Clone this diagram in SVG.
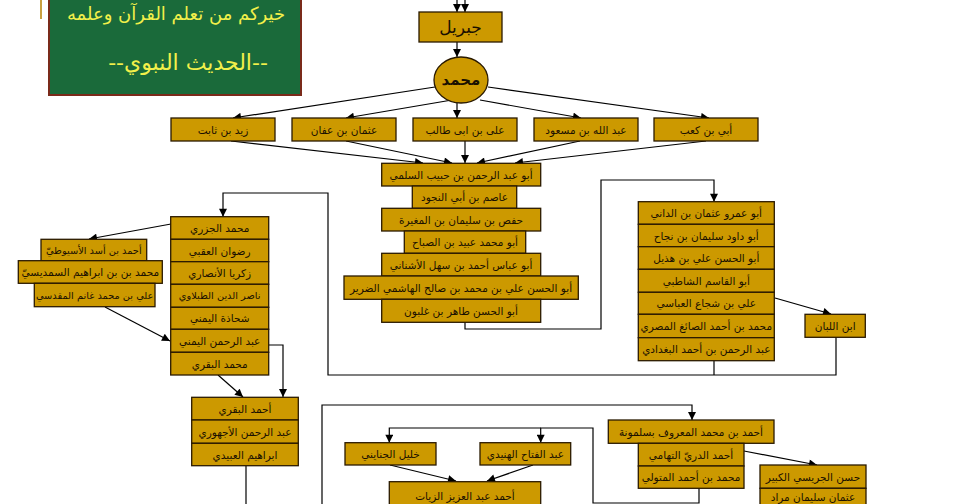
<svg xmlns="http://www.w3.org/2000/svg" width="960" height="504" viewBox="0 0 960 504">
<defs>
<marker id="ar" viewBox="0 0 10 10" refX="10" refY="5" markerWidth="9" markerHeight="8" markerUnits="userSpaceOnUse" orient="auto">
<path d="M0,0 L10,5 L0,10 z" fill="#000"/>
</marker>
<style>
.box{fill:#CC9900;stroke:#2a1a00;stroke-width:1.3}
.t{font-family:"DejaVu Sans",sans-serif;font-size:10.5px;fill:#1a1000;text-anchor:middle;dominant-baseline:central}
.s{font-size:9.8px}
.ln{fill:none;stroke:#000;stroke-width:1.2}
.ar{marker-end:url(#ar)}
.g{font-family:"DejaVu Sans",sans-serif;fill:#F2F04A;text-anchor:middle}
</style>
</defs>
<rect width="960" height="504" fill="#fff"/>
<g id="banner">
<rect x="40" y="0" width="2" height="19" fill="#C8A040"/>
<rect x="49" y="-2" width="252" height="97" fill="#1A6A3A" stroke="#7A2A1A" stroke-width="2"/>
<text class="g" x="176" y="20" style="font-size:18px">خيركم من تعلم القرآن وعلمه</text>
<text class="g" x="188" y="70" style="font-size:22px">--الحديث النبوي--</text>
</g>
<g id="connectors">
<path class="ln ar" d="M457,0 V12"/>
<path class="ln ar" d="M465,0 V12"/>
<path class="ln ar" d="M457,42 V57"/>
<path class="ln ar" d="M435,87 L233,118"/>
<path class="ln ar" d="M452,100 L346,118"/>
<path class="ln ar" d="M457,103 V118"/>
<path class="ln ar" d="M480,100 L581,118"/>
<path class="ln ar" d="M488,87 L709,118"/>
<path class="ln ar" d="M231,141 L423,163"/>
<path class="ln ar" d="M346,141 L452,163"/>
<path class="ln ar" d="M465,141 V163"/>
<path class="ln ar" d="M580,141 L477,163"/>
<path class="ln ar" d="M706,141 L515,163"/>
<path class="ln ar" d="M465,322 V329 H601 V180 H714 V201.7"/>
<path class="ln ar" d="M775,298 L831,314"/>
<path class="ln ar" d="M836,337 V375 H328 V193 H223 V216.7"/>
<path class="ln" d="M714,361 V375"/>
<path class="ln ar" d="M171,224 L89,239"/>
<path class="ln ar" d="M105,307 L170,341"/>
<path class="ln ar" d="M218,375 L243,397"/>
<path class="ln ar" d="M269,345 H283 V397"/>
<path class="ln" d="M246,466 V504"/>
<path class="ln ar" d="M322,504 V405 H692 V420"/>
<path class="ln ar" d="M699,488 V503 H593 V428 H540.7 V442.7"/>
<path class="ln ar" d="M540.7,428 H389.3 V442.7"/>
<path class="ln ar" d="M390,465 L456,481"/>
<path class="ln ar" d="M533,465 L487,481"/>
<path class="ln ar" d="M744,451 L817,465"/>
</g>
<g id="n-jibril"><rect class="box" x="419" y="12" width="83" height="30"/><text class="t" x="460.5" y="27" style="font-size:17px">جبريل</text></g>
<g id="n-muhammad"><ellipse class="box" cx="461" cy="80" rx="27" ry="23"/><text class="t" x="461" y="80" style="font-size:15px;font-weight:bold">محمد</text></g>
<g id="n-zayd"><rect class="box" x="171" y="118" width="104" height="23"/><text class="t" x="223" y="129.5">زيد بن ثابت</text></g>
<g id="n-uthman"><rect class="box" x="292" y="118" width="104" height="23"/><text class="t" x="344" y="129.5">عثمان بن عفان</text></g>
<g id="n-ali"><rect class="box" x="413" y="118" width="104" height="23"/><text class="t" x="465" y="129.5">على بن ابى طالب</text></g>
<g id="n-ibnmasud"><rect class="box" x="534" y="118" width="104" height="23"/><text class="t" x="586" y="129.5">عبد الله بن مسعود</text></g>
<g id="n-ubayy"><rect class="box" x="654" y="118" width="104" height="23"/><text class="t" x="706" y="129.5">أبي بن كعب</text></g>
<g id="n-sulami"><rect class="box" x="381.7" y="163.3" width="159" height="22.7"/><text class="t" x="461" y="174.7">أبو عبد الرحمن بن حبيب السلمي</text></g>
<g id="n-asim"><rect class="box" x="412.3" y="186" width="104.4" height="22.3"/><text class="t" x="464.5" y="197.2">عاصم بن أبي النجود</text></g>
<g id="n-hafs"><rect class="box" x="381.7" y="208.3" width="159" height="22.7"/><text class="t" x="461" y="219.7">حفص بن سليمان بن المغيرة</text></g>
<g id="n-ubayd"><rect class="box" x="404.3" y="231" width="121.4" height="22.3"/><text class="t" x="465" y="242.2">أبو محمد عبيد بن الصباح</text></g>
<g id="n-ushnani"><rect class="box" x="381.7" y="253.3" width="159" height="22.7"/><text class="t" x="461" y="264.7">أبو عباس أحمد بن سهل الأشناني</text></g>
<g id="n-hashimi"><rect class="box" x="344" y="276" width="234.3" height="23.3"/><text class="t" x="461" y="287.7">أبو الحسن علي بن محمد بن صالح الهاشمي الضرير</text></g>
<g id="n-ghalbun"><rect class="box" x="381.7" y="299.3" width="159" height="23"/><text class="t" x="461" y="310.8">أبو الحسن طاهر بن غلبون</text></g>
<g id="n-dani"><rect class="box" x="638.3" y="201.7" width="136" height="22.6"/><text class="t" x="706.3" y="213">أبو عمرو عثمان بن الداني</text></g>
<g id="n-najah"><rect class="box" x="638.3" y="224.3" width="136" height="22.4"/><text class="t" x="706.3" y="235.5">أبو داود سليمان بن نجاح</text></g>
<g id="n-hudhayl"><rect class="box" x="638.3" y="246.7" width="136" height="22.6"/><text class="t" x="706.3" y="258">أبو الحسن علي بن هذيل</text></g>
<g id="n-shatibi"><rect class="box" x="638.3" y="269.3" width="136" height="23"/><text class="t" x="706.3" y="280.8">أبو القاسم الشاطبي</text></g>
<g id="n-abbasi"><rect class="box" x="638.3" y="292.3" width="136" height="22"/><text class="t" x="706.3" y="303.3">علي بن شجاع العباسي</text></g>
<g id="n-saigh"><rect class="box" x="638.3" y="314.3" width="136" height="23.4"/><text class="t" x="706.3" y="326">محمد بن أحمد الصائغ المصري</text></g>
<g id="n-baghdadi"><rect class="box" x="638.3" y="337.7" width="136" height="23"/><text class="t" x="706.3" y="349.2">عبد الرحمن بن أحمد البغدادي</text></g>
<g id="n-labban"><rect class="box" x="805" y="314.3" width="60.3" height="23"/><text class="t" x="835.2" y="325.8">ابن اللبان</text></g>
<g id="n-jazari"><rect class="box" x="170.7" y="216.7" width="98" height="22.6"/><text class="t" x="219.7" y="228">محمد الجزري</text></g>
<g id="n-uqbi"><rect class="box" x="170.7" y="239.3" width="98" height="22.4"/><text class="t" x="219.7" y="250.5">رضوان العقبي</text></g>
<g id="n-ansari"><rect class="box" x="170.7" y="261.7" width="98" height="22.6"/><text class="t" x="219.7" y="273">زكريا الأنصاري</text></g>
<g id="n-tablawi"><rect class="box" x="170.7" y="284.3" width="98" height="23"/><text class="t s" x="219.7" y="295.8">ناصر الدين الطبلاوي</text></g>
<g id="n-shahadha"><rect class="box" x="170.7" y="307.3" width="98" height="22"/><text class="t" x="219.7" y="318.3">شحاذة اليمني</text></g>
<g id="n-yamani"><rect class="box" x="170.7" y="329.3" width="98" height="23"/><text class="t" x="219.7" y="340.8">عبد الرحمن اليمني</text></g>
<g id="n-baqari1"><rect class="box" x="170.7" y="352.3" width="98" height="22.7"/><text class="t" x="219.7" y="363.7">محمد البقري</text></g>
<g id="n-asyuti"><rect class="box" x="41" y="239.3" width="105.7" height="21.4"/><text class="t s" x="93.8" y="250">أحمد بن أسد الأسيوطيّ</text></g>
<g id="n-samdisi"><rect class="box" x="18.3" y="260.7" width="144" height="22.6"/><text class="t" x="90.3" y="272">محمد بن بن ابراهيم السمديسيّ</text></g>
<g id="n-maqdisi"><rect class="box" x="34.3" y="283.3" width="120.7" height="23.4"/><text class="t s" x="94.7" y="295">علي بن محمد غانم المقدسي</text></g>
<g id="n-baqari2"><rect class="box" x="191.7" y="397.3" width="106.6" height="22.7"/><text class="t" x="245" y="408.7">أحمد البقري</text></g>
<g id="n-ujhuri"><rect class="box" x="191.7" y="420" width="106.6" height="23.3"/><text class="t" x="245" y="431.7">عبد الرحمن الأجهوري</text></g>
<g id="n-ubaydi"><rect class="box" x="191.7" y="443.3" width="106.6" height="22.4"/><text class="t" x="245" y="454.5">ابراهيم العبيدي</text></g>
<g id="n-khalil"><rect class="box" x="345" y="442.7" width="91" height="22.3"/><text class="t" x="390.5" y="453.8">خليل الجنايني</text></g>
<g id="n-hunaydi"><rect class="box" x="480" y="442.7" width="90.7" height="22.3"/><text class="t" x="525.3" y="453.8">عبد الفتاح الهنيدي</text></g>
<g id="n-zayyat"><rect class="box" x="389.3" y="481.7" width="151.4" height="30"/><text class="t" x="465" y="496">أحمد عبد العزيز الزيات</text></g>
<g id="n-salmuna"><rect class="box" x="608.3" y="420" width="165.7" height="23.3"/><text class="t" x="691" y="431.7">أحمد بن محمد المعروف بسلمونة</text></g>
<g id="n-tihami"><rect class="box" x="638.3" y="443.3" width="105.7" height="22.7"/><text class="t" x="691" y="454.7">أحمد الدريّ التهامي</text></g>
<g id="n-mutawalli"><rect class="box" x="638.3" y="466" width="105.7" height="22.3"/><text class="t" x="691" y="477.2">محمد بن أحمد المتولي</text></g>
<g id="n-juraysi"><rect class="box" x="760" y="465" width="106" height="23.3"/><text class="t" x="813" y="476.7">حسن الجريسي الكبير</text></g>
<g id="n-murad"><rect class="box" x="760" y="488.3" width="106" height="23"/><text class="t" x="813" y="497">عثمان سليمان مراد</text></g>
</svg>
